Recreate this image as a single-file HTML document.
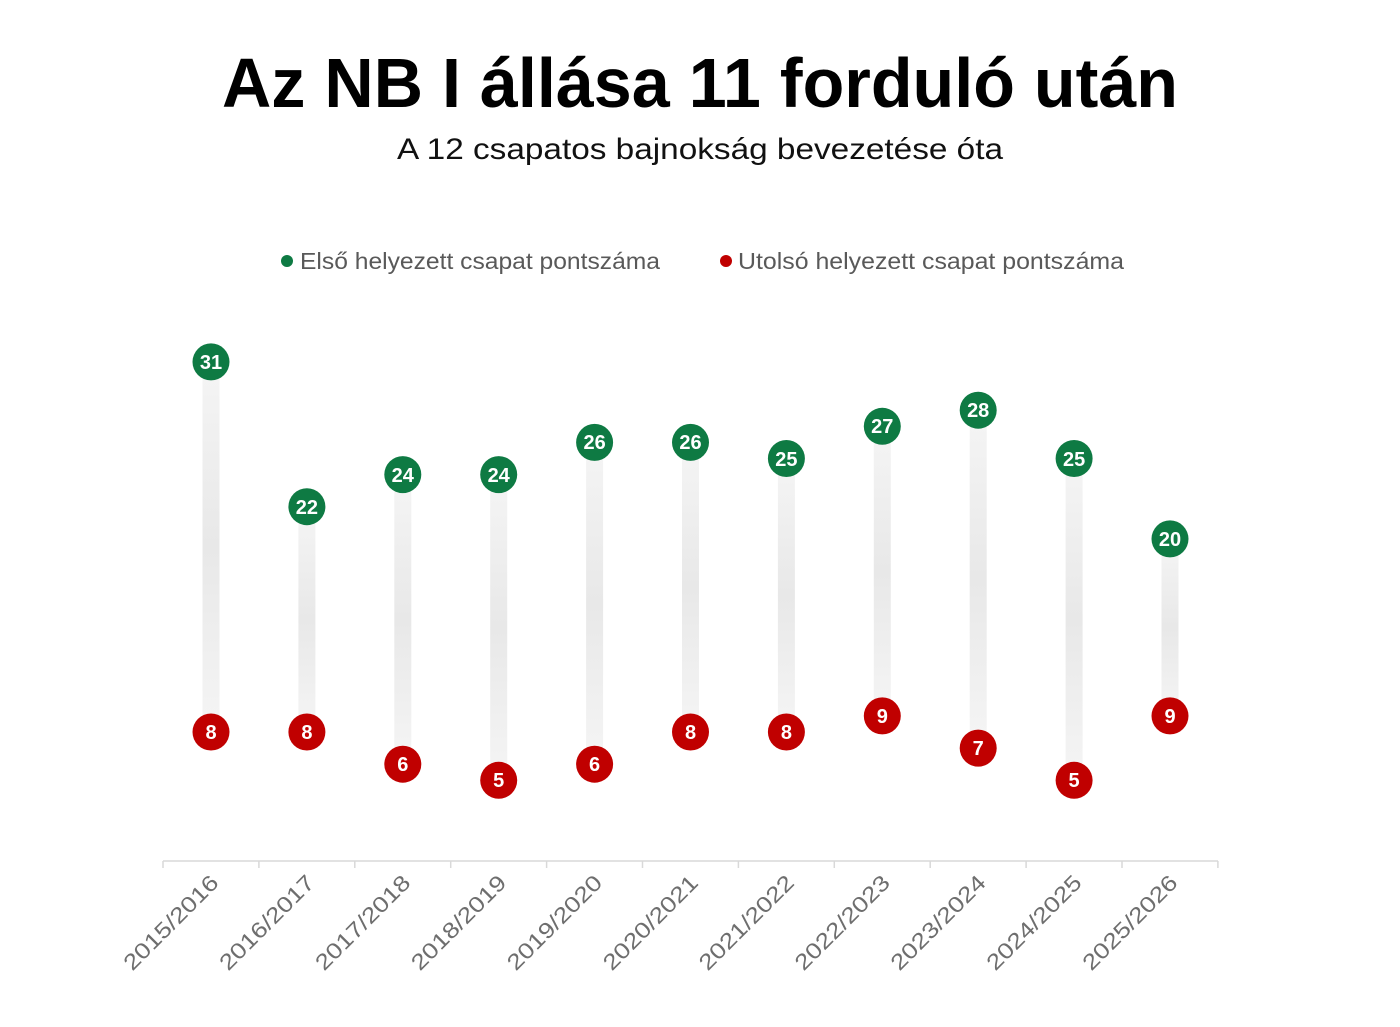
<!DOCTYPE html>
<html><head><meta charset="utf-8"><style>
html,body{margin:0;padding:0;background:#fff}
svg{display:block}
.t{font-size:20px;font-weight:bold;fill:#fff;text-anchor:middle}
.l{font-size:22px;fill:#6e6e6e;text-anchor:end}
</style></head><body>
<svg width="1400" height="1027" viewBox="0 0 1400 1027" xmlns="http://www.w3.org/2000/svg" font-family="Liberation Sans, sans-serif">
<defs>
<linearGradient id="g" x1="0" y1="0" x2="0" y2="1">
<stop offset="0" stop-color="#f5f5f5"/><stop offset="0.5" stop-color="#e8e8e8"/><stop offset="1" stop-color="#f5f5f5"/>
</linearGradient>
</defs>
<text x="700" y="107" text-anchor="middle" font-size="70" font-weight="bold" fill="#000" textLength="956" lengthAdjust="spacingAndGlyphs">Az NB I állása 11 forduló után</text>
<text x="700" y="159" text-anchor="middle" font-size="30" fill="#111" textLength="606" lengthAdjust="spacingAndGlyphs">A 12 csapatos bajnokság bevezetése óta</text>
<circle cx="287" cy="261" r="6" fill="#0e7a43"/>
<text x="300" y="269" font-size="23" fill="#595959" textLength="360" lengthAdjust="spacingAndGlyphs">Első helyezett csapat pontszáma</text>
<circle cx="726" cy="261" r="6" fill="#c00000"/>
<text x="738" y="269" font-size="23" fill="#595959" textLength="386" lengthAdjust="spacingAndGlyphs">Utolsó helyezett csapat pontszáma</text>
<line x1="163" y1="861" x2="1218" y2="861" stroke="#d9d9d9" stroke-width="1.5"/>
<g stroke="#d9d9d9" stroke-width="1.5">
<line x1="163" y1="861" x2="163" y2="868"/><line x1="258.9" y1="861" x2="258.9" y2="868"/><line x1="354.8" y1="861" x2="354.8" y2="868"/><line x1="450.7" y1="861" x2="450.7" y2="868"/><line x1="546.6" y1="861" x2="546.6" y2="868"/><line x1="642.5" y1="861" x2="642.5" y2="868"/><line x1="738.4" y1="861" x2="738.4" y2="868"/><line x1="834.3" y1="861" x2="834.3" y2="868"/><line x1="930.2" y1="861" x2="930.2" y2="868"/><line x1="1026.1" y1="861" x2="1026.1" y2="868"/><line x1="1122" y1="861" x2="1122" y2="868"/><line x1="1217.9" y1="861" x2="1217.9" y2="868"/>
</g>
<g fill="url(#g)">
<rect x="202.5" y="361.9" width="17" height="370.1"/>
<rect x="298.4" y="506.7" width="17" height="225.3"/>
<rect x="394.3" y="474.6" width="17" height="289.6"/>
<rect x="490.2" y="474.6" width="17" height="305.7"/>
<rect x="586.1" y="442.4" width="17" height="321.8"/>
<rect x="682" y="442.4" width="17" height="289.6"/>
<rect x="777.9" y="458.5" width="17" height="273.5"/>
<rect x="873.8" y="426.3" width="17" height="289.6"/>
<rect x="969.7" y="410.2" width="17" height="337.9"/>
<rect x="1065.6" y="458.5" width="17" height="321.8"/>
<rect x="1161.5" y="538.9" width="17" height="177"/>
</g>
<g fill="#0e7a43">
<circle cx="211" cy="361.9" r="18.5"/><circle cx="306.9" cy="506.7" r="18.5"/><circle cx="402.8" cy="474.6" r="18.5"/><circle cx="498.7" cy="474.6" r="18.5"/><circle cx="594.6" cy="442.4" r="18.5"/><circle cx="690.5" cy="442.4" r="18.5"/><circle cx="786.4" cy="458.5" r="18.5"/><circle cx="882.3" cy="426.3" r="18.5"/><circle cx="978.2" cy="410.2" r="18.5"/><circle cx="1074.1" cy="458.5" r="18.5"/><circle cx="1170" cy="538.9" r="18.5"/>
</g>
<g fill="#c00000">
<circle cx="211" cy="732" r="18.5"/><circle cx="306.9" cy="732" r="18.5"/><circle cx="402.8" cy="764.2" r="18.5"/><circle cx="498.7" cy="780.3" r="18.5"/><circle cx="594.6" cy="764.2" r="18.5"/><circle cx="690.5" cy="732" r="18.5"/><circle cx="786.4" cy="732" r="18.5"/><circle cx="882.3" cy="715.9" r="18.5"/><circle cx="978.2" cy="748.1" r="18.5"/><circle cx="1074.1" cy="780.3" r="18.5"/><circle cx="1170" cy="715.9" r="18.5"/>
</g>
<g class="t">
<text class="t" x="211" y="369">31</text><text class="t" x="306.9" y="514">22</text><text class="t" x="402.8" y="482">24</text><text class="t" x="498.7" y="482">24</text><text class="t" x="594.6" y="449">26</text><text class="t" x="690.5" y="449">26</text><text class="t" x="786.4" y="466">25</text><text class="t" x="882.3" y="433">27</text><text class="t" x="978.2" y="417">28</text><text class="t" x="1074.1" y="466">25</text><text class="t" x="1170" y="546">20</text>
<text class="t" x="211" y="739">8</text><text class="t" x="306.9" y="739">8</text><text class="t" x="402.8" y="771">6</text><text class="t" x="498.7" y="787">5</text><text class="t" x="594.6" y="771">6</text><text class="t" x="690.5" y="739">8</text><text class="t" x="786.4" y="739">8</text><text class="t" x="882.3" y="723">9</text><text class="t" x="978.2" y="755">7</text><text class="t" x="1074.1" y="787">5</text><text class="t" x="1170" y="723">9</text>
</g>
<text class="l" textLength="124" lengthAdjust="spacingAndGlyphs" transform="translate(220,884) rotate(-45)">2015/2016</text>
<text class="l" textLength="124" lengthAdjust="spacingAndGlyphs" transform="translate(315.9,884) rotate(-45)">2016/2017</text>
<text class="l" textLength="124" lengthAdjust="spacingAndGlyphs" transform="translate(411.8,884) rotate(-45)">2017/2018</text>
<text class="l" textLength="124" lengthAdjust="spacingAndGlyphs" transform="translate(507.7,884) rotate(-45)">2018/2019</text>
<text class="l" textLength="124" lengthAdjust="spacingAndGlyphs" transform="translate(603.6,884) rotate(-45)">2019/2020</text>
<text class="l" textLength="124" lengthAdjust="spacingAndGlyphs" transform="translate(699.5,884) rotate(-45)">2020/2021</text>
<text class="l" textLength="124" lengthAdjust="spacingAndGlyphs" transform="translate(795.4,884) rotate(-45)">2021/2022</text>
<text class="l" textLength="124" lengthAdjust="spacingAndGlyphs" transform="translate(891.3,884) rotate(-45)">2022/2023</text>
<text class="l" textLength="124" lengthAdjust="spacingAndGlyphs" transform="translate(987.2,884) rotate(-45)">2023/2024</text>
<text class="l" textLength="124" lengthAdjust="spacingAndGlyphs" transform="translate(1083.1,884) rotate(-45)">2024/2025</text>
<text class="l" textLength="124" lengthAdjust="spacingAndGlyphs" transform="translate(1179,884) rotate(-45)">2025/2026</text>
</svg>
</body></html>
